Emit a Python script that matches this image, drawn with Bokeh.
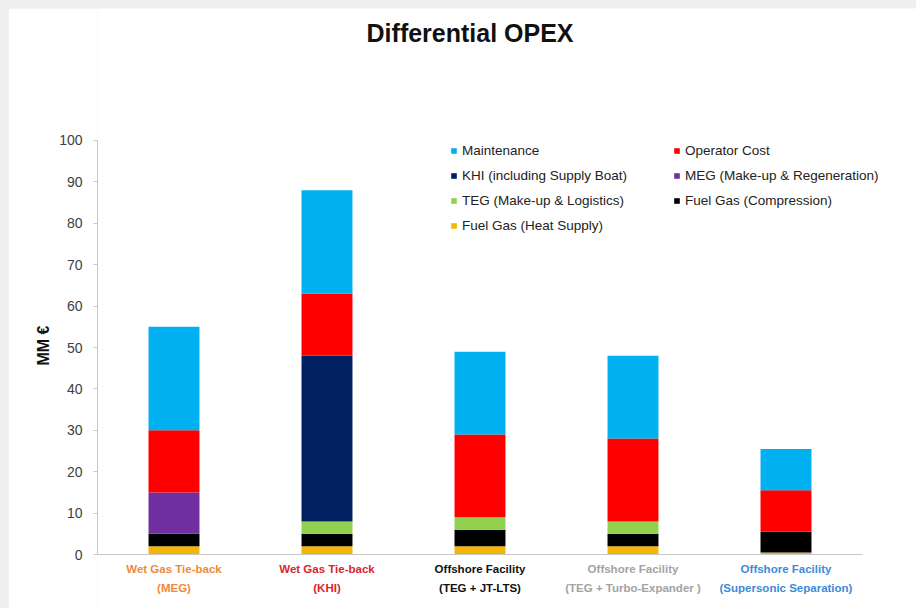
from bokeh.plotting import figure
from bokeh.layouts import column
from bokeh.models import ColumnDataSource, Legend, LegendItem, Range1d, Title
from bokeh.core.properties import value
from bokeh.embed import file_html
from bokeh.resources import INLINE

# ---- data ----
categories = ["Wet Gas Tie-back (MEG)", "Wet Gas Tie-back (KHI)", "Offshore Facility (TEG + JT-LTS)",
              "Offshore Facility (TEG + Turbo-Expander )", "Offshore Facility (Supersonic Separation)"]
cat_line1 = ["Wet Gas Tie-back", "Wet Gas Tie-back", "Offshore Facility", "Offshore Facility", "Offshore Facility"]
cat_line2 = ["(MEG)", "(KHI)", "(TEG + JT-LTS)", "(TEG + Turbo-Expander )", "(Supersonic Separation)"]
cat_colors = ["#F08A3A", "#D9262C", "#111111", "#A3A3A3", "#3A8CD9"]

series_names = ["Fuel Gas (Heat Supply)", "Fuel Gas (Compression)", "TEG (Make-up & Logistics)",
                "MEG (Make-up & Regeneration)", "KHI (including Supply Boat)", "Operator Cost", "Maintenance"]
series_keys = ["heat", "comp", "teg", "meg", "khi", "oper", "maint"]
series_colors = ["#F2B705", "#000000", "#92D050", "#7030A0", "#002060", "#FF0000", "#00B0F0"]

heat = [2, 2, 2, 2, 0.5]
comp = [3, 3, 4, 3, 5]
teg = [0, 3, 3, 3, 0]
meg = [10, 0, 0, 0, 0]
khi = [0, 40, 0, 0, 0]
oper = [15, 15, 20, 20, 10]
maint = [25, 25, 20, 20, 10]

legend_order = ["Maintenance", "Operator Cost", "KHI (including Supply Boat)", "MEG (Make-up & Regeneration)",
                "TEG (Make-up & Logistics)", "Fuel Gas (Compression)", "Fuel Gas (Heat Supply)"]

yticks = [0, 10, 20, 30, 40, 50, 60, 70, 80, 90, 100]
y_min, y_max = 0, 100

FONT = "Liberation Sans"

# category positions on a numeric axis (one unit per category, centred)
xpos = [i + 0.5 for i in range(len(categories))]

src = ColumnDataSource(dict(x=xpos, cat=categories, heat=heat, comp=comp, teg=teg, meg=meg, khi=khi,
                            oper=oper, maint=maint))

p = figure(width=908, height=600, x_range=Range1d(0, 5.353), y_range=Range1d(-13.04, 131.88),
           output_backend="svg", toolbar_location=None,
           min_border_left=89, min_border_right=0, min_border_top=0, min_border_bottom=0)

renderers = p.vbar_stack(series_keys, x="x", width=0.333, source=src, color=series_colors,
                         line_color=None)
rmap = dict(zip(series_names, renderers))

p.outline_line_color = None
p.background_fill_color = "white"
p.border_fill_color = "white"
p.xgrid.grid_line_color = None
p.ygrid.grid_line_color = None
p.xaxis.visible = False

# baseline (category axis line)
p.segment(x0=[0], y0=[y_min], x1=[len(categories)], y1=[y_min], line_color="#C8C8C8", line_width=1)

# y axis
ya = p.yaxis[0]
ya.ticker = yticks
ya.bounds = (y_min, y_max)
ya.axis_line_color = "#C8C8C8"
ya.major_tick_line_color = "#C8C8C8"
ya.major_tick_out = 4
ya.major_tick_in = 0
ya.minor_tick_line_color = None
ya.major_label_standoff = 11
ya.major_label_text_font = FONT
ya.major_label_text_font_size = "14px"
ya.major_label_text_color = "#404040"

ylab = Title(text="MM €", align="left", offset=243, standoff=10,
             text_font=FONT, text_font_size="16px", text_font_style="bold", text_color="#111111")
p.add_layout(ylab, "left")

# chart title
p.text(x=[2.435], y=[125.85], text=["Differential OPEX"], text_align="center", text_baseline="middle",
       text_font=value(FONT), text_font_size="25px", text_font_style="bold", text_color="#111111")

# category labels (two lines, coloured per category)
lab_src = ColumnDataSource(dict(x=xpos, l1=cat_line1, l2=cat_line2, col=cat_colors))
p.text(x="x", y=-3.5, text="l1", source=lab_src, text_color="col", text_align="center",
       text_baseline="middle", text_font=value(FONT), text_font_size="11.5px", text_font_style="bold")
p.text(x="x", y=-8.0, text="l2", source=lab_src, text_color="col", text_align="center",
       text_baseline="middle", text_font=value(FONT), text_font_size="11.5px", text_font_style="bold")

# legend
items = [LegendItem(label=n, renderers=[rmap[n]]) for n in legend_order]
leg = Legend(items=items, orientation="horizontal", ncols=2, location=(353, 375),
             glyph_width=7, glyph_height=7, label_standoff=5, label_width=202, label_height=16,
             spacing=9, padding=0, margin=0, border_line_color=None, background_fill_alpha=0,
             label_text_font=FONT, label_text_font_size="13.5px", label_text_color="#222222")
p.add_layout(leg)

page = column(p, styles={"background-color": "#EFEFEF", "padding": "8px 0 0 8px"})

open("out.html", "w").write(file_html(page, INLINE))
